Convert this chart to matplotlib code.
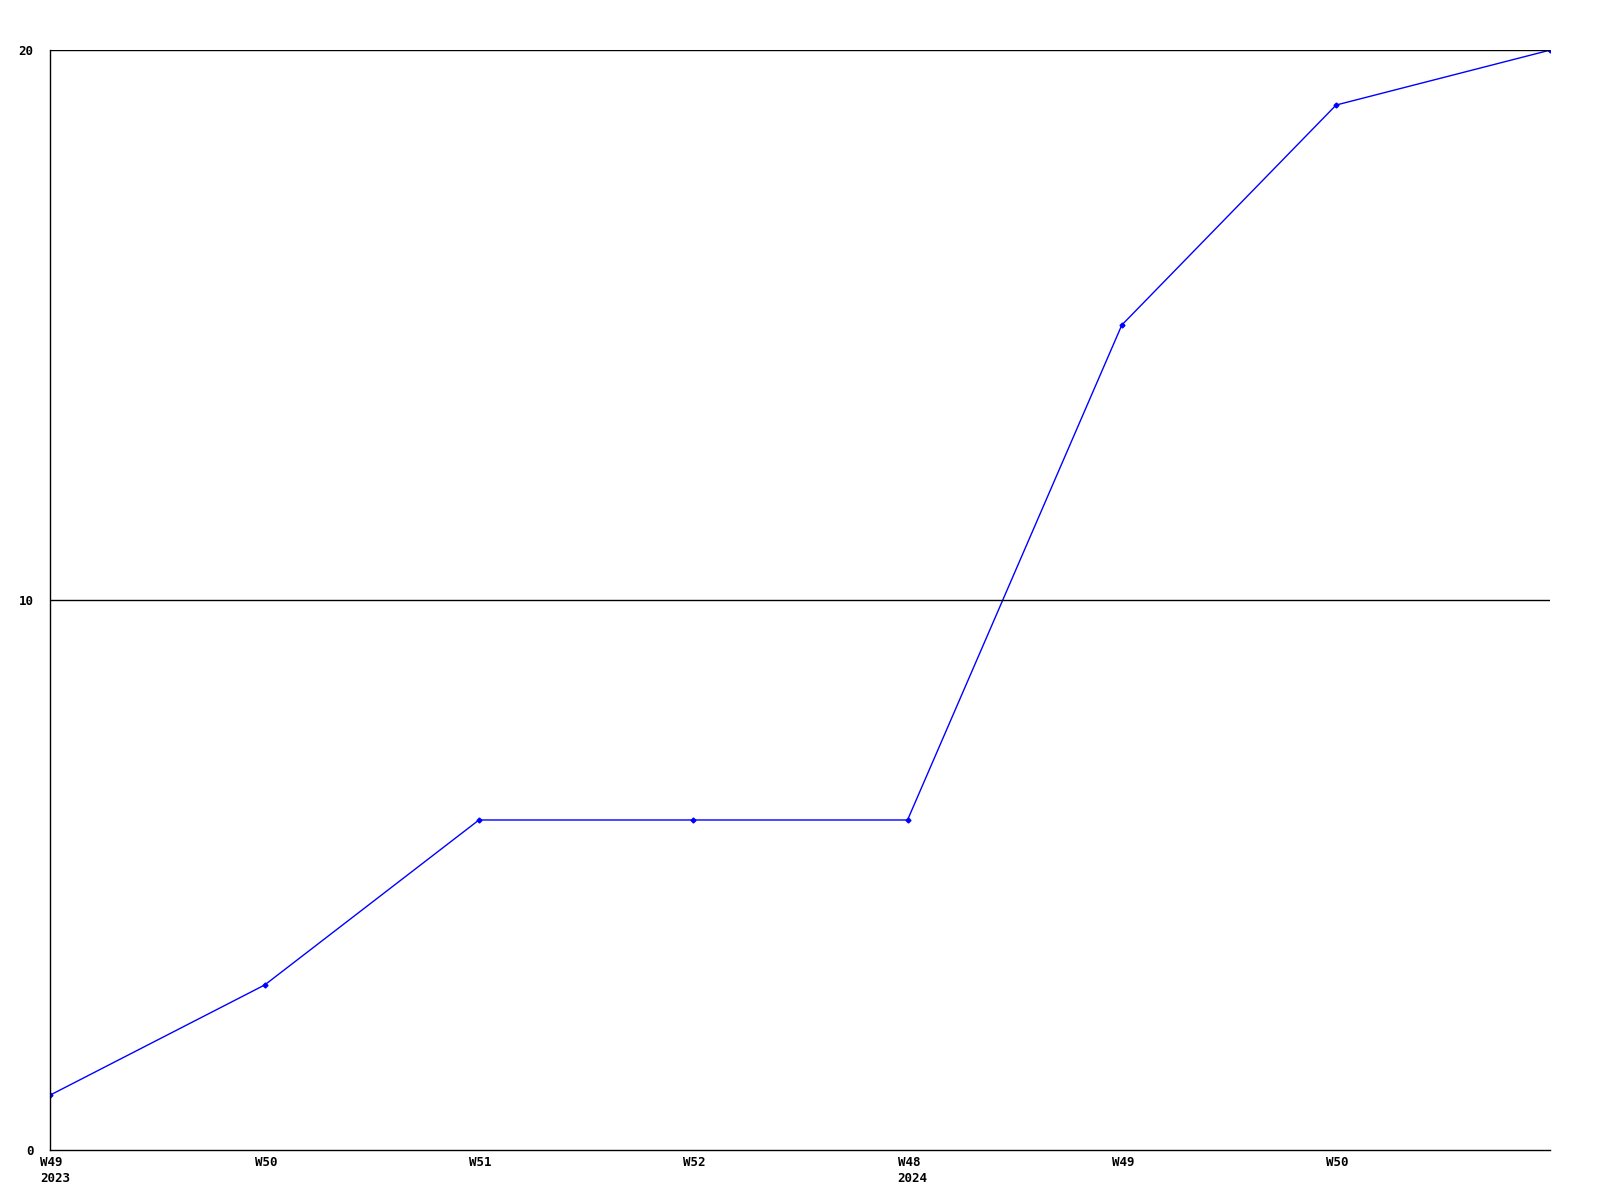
import matplotlib.pyplot as plt
import matplotlib.transforms as mtransforms

# weekly data
weeks = ['W49\n2023', 'W50', 'W51', 'W52', 'W48\n2024', 'W49', 'W50', 'W51']
values = [1, 3, 6, 6, 6, 15, 19, 20]
tick_labels = weeks[:-1]
y_ticks = [0, 10, 20]

fig = plt.figure(figsize=(16, 12), dpi=100)
ax = fig.add_axes([0.0315, 0.0417, 0.9375, 0.9166])

x = list(range(len(values)))
ax.plot(x, values, color='#0000ff', linewidth=1, marker='D', markersize=2.5)

ax.set_xlim(0, len(values) - 1)
ax.set_ylim(0, 20)

ax.set_yticks(y_ticks)
ax.set_yticklabels([str(v) for v in y_ticks])
ax.set_xticks(x[:-1])
ax.set_xticklabels(tick_labels)

for v in y_ticks[1:]:
    ax.axhline(v, color='black', linewidth=1)

for s in ['top', 'right']:
    ax.spines[s].set_visible(False)
for s in ['left', 'bottom']:
    ax.spines[s].set_linewidth(1)

ax.tick_params(axis='both', length=0)
ax.tick_params(axis='y', pad=12)
ax.tick_params(axis='x', pad=4)

offset = mtransforms.ScaledTranslation(-0.1, 0, fig.dpi_scale_trans)
for lbl in ax.get_xticklabels():
    lbl.set_horizontalalignment('left')
    lbl.set_multialignment('left')
    lbl.set_transform(lbl.get_transform() + offset)
    lbl.set_fontfamily('DejaVu Sans Mono')
    lbl.set_fontweight('bold')
    lbl.set_fontsize(9)
    lbl.set_linespacing(1.3)
for lbl in ax.get_yticklabels():
    lbl.set_fontfamily('DejaVu Sans Mono')
    lbl.set_fontweight('bold')
    lbl.set_fontsize(9)

plt.savefig('out.png', dpi=100)
